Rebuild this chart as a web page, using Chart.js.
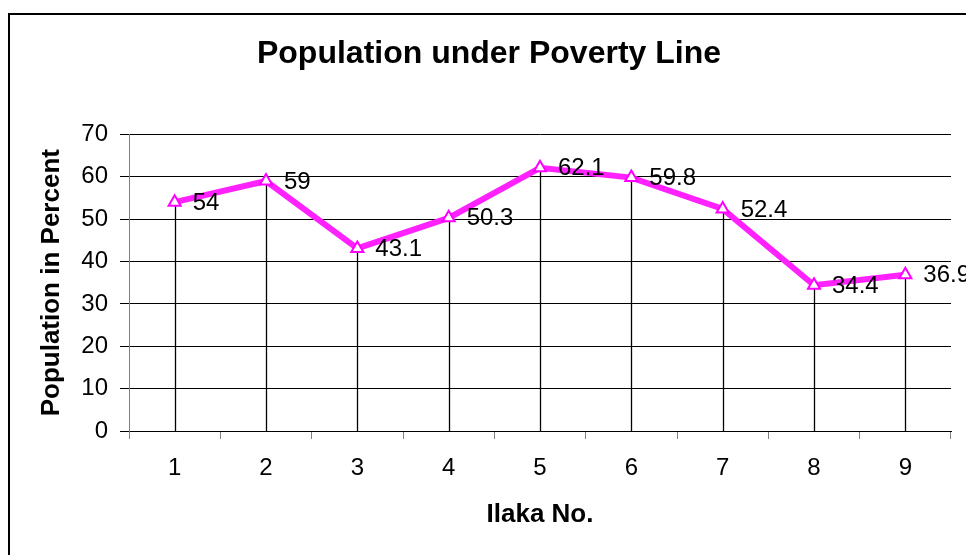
<!DOCTYPE html>
<html>
<head>
<meta charset="utf-8">
<title>Population under Poverty Line</title>
<script src="https://cdn.jsdelivr.net/npm/chart.js@4.4.1/dist/chart.umd.min.js"></script>
<style>
  body { margin: 0; background: #fff; }
  canvas { display: block; }
</style>
</head>
<body>
<canvas id="graphContainer" width="966" height="555"></canvas>
<script>
// chart data
const ilakaNumbers = ['1', '2', '3', '4', '5', '6', '7', '8', '9'];
const povertyPercent = [54, 59, 43.1, 50.3, 62.1, 59.8, 52.4, 34.4, 36.9];
const yTickValues = [0, 10, 20, 30, 40, 50, 60, 70];

document.addEventListener('DOMContentLoaded', () => { // Wait for the DOM to load

  const graphContainer = document.getElementById('graphContainer');
  const ctx = graphContainer.getContext('2d');

  Chart.defaults.font.family = '"Liberation Sans", Arial, sans-serif';
  Chart.defaults.color = '#000';

  // white background + the outer chart border (left and top edges show)
  const chartFrame = {
    id: 'chartFrame',
    beforeDraw(chart) {
      const c = chart.ctx;
      c.save();
      c.fillStyle = '#fff';
      c.fillRect(0, 0, chart.width, chart.height);
      c.restore();
    },
    afterDraw(chart) {
      const c = chart.ctx;
      c.save();
      c.strokeStyle = '#000';
      c.lineWidth = 2;
      c.strokeRect(9, 14, chart.width + 20, chart.height + 20);
      c.restore();
    }
  };

  // vertical drop lines from each point down to the x axis
  const dropLines = {
    id: 'dropLines',
    beforeDatasetsDraw(chart) {
      const c = chart.ctx;
      const yScale = chart.scales.y;
      const base = yScale.getPixelForValue(yScale.min);
      c.save();
      c.strokeStyle = '#000';
      c.lineWidth = 1.3;
      chart.getDatasetMeta(0).data.forEach(pt => {
        const x = Math.round(pt.x) + 0.5;
        c.beginPath();
        c.moveTo(x, pt.y);
        c.lineTo(x, base);
        c.stroke();
      });
      c.restore();
    }
  };

  // value labels to the right of each marker
  const valueLabels = {
    id: 'valueLabels',
    afterDatasetsDraw(chart) {
      const c = chart.ctx;
      const ds = chart.data.datasets[0];
      c.save();
      c.font = '24px "Liberation Sans", Arial, sans-serif';
      c.fillStyle = '#000';
      c.textAlign = 'left';
      c.textBaseline = 'middle';
      chart.getDatasetMeta(0).data.forEach((pt, i) => {
        c.fillText(String(ds.data[i]), pt.x + 18, pt.y + 1);
      });
      c.restore();
    }
  };

  window.myChart = new Chart(ctx, {
    type: 'line',
    data: {
      labels: ilakaNumbers,
      datasets: [{
        label: 'Population under Poverty Line',
        data: povertyPercent,
        borderColor: '#ff22ff',
        borderWidth: 6,
        tension: 0,
        pointStyle: 'triangle',
        pointRadius: 7,
        pointBorderWidth: 2,
        pointBorderColor: '#ff00ff',
        pointBackgroundColor: '#ffffff'
      }]
    },
    options: {
      responsive: false,
      animation: false,
      layout: { padding: { left: 27, right: 15, top: 0, bottom: 0 } },
      plugins: {
        legend: { display: false },
        tooltip: { enabled: false },
        title: {
          display: true,
          text: 'Population under Poverty Line',
          color: '#000',
          font: { size: 32, weight: 'bold' },
          padding: { top: 35, bottom: 61 }
        }
      },
      scales: {
        x: {
          type: 'category',
          offset: true,
          grid: {
            offset: true,
            drawOnChartArea: false,
            drawTicks: true,
            tickLength: 8,
            tickColor: '#808080'
          },
          border: { display: true, color: '#000', width: 1 },
          ticks: { font: { size: 24 }, padding: 15, maxRotation: 0, autoSkip: false },
          title: {
            display: true,
            text: 'Ilaka No.',
            font: { size: 26, weight: 'bold' },
            padding: { top: 0, bottom: 25 }
          },
          afterFit(scale) { scale.height = 124; }
        },
        y: {
          min: 0,
          max: 70,
          afterBuildTicks(scale) {
            scale.ticks = yTickValues.map(v => ({ value: v }));
          },
          grid: {
            color: '#000',
            lineWidth: 1,
            drawTicks: true,
            tickLength: 9,
            tickColor: '#000'
          },
          border: { display: true, color: '#808080', width: 1 },
          ticks: { font: { size: 24 }, padding: 12 },
          title: {
            display: true,
            text: 'Population in Percent',
            font: { size: 26, weight: 'bold' },
            padding: { top: 9, bottom: 0 }
          },
          afterFit(scale) { scale.width = 102; }
        }
      }
    },
    plugins: [chartFrame, dropLines, valueLabels]
  });
});
</script>
</body>
</html>
